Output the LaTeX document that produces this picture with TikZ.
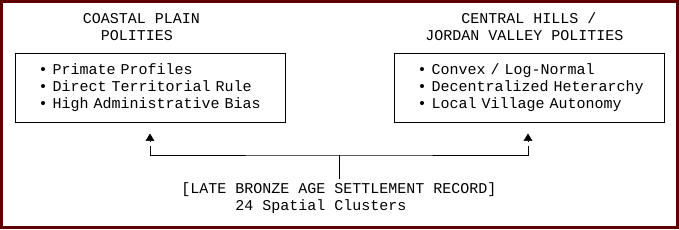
\documentclass[tikz,border=0pt]{standalone}
\usepackage{fontspec}
\setmonofont{Liberation Mono}
\usepackage{tikz}
\usetikzlibrary{arrows.meta, positioning}

\definecolor{framered}{RGB}{94,0,0}
\newcommand{\mono}{\ttfamily\fontsize{11.25pt}{12.75pt}\selectfont}

\begin{document}
\begin{tikzpicture}[
    x=0.75pt, y=-0.75pt,
    title/.style={font=\mono, inner sep=0pt, align=left, anchor=base west},
    box/.style={rectangle, draw, line width=0.75pt,
                minimum width=202.5pt, minimum height=51.75pt,
                text width=184pt, align=left, font=\mono,
                execute at begin node={\leftskip=8.55pt\relax}},
    wire/.style={line width=0.75pt},
    tip/.style={-{Triangle[length=5.6pt, width=6.6pt]}},
  ]
    % Frame
    \useasboundingbox (0,0) rectangle (679,229);
    \draw[framered, line width=1.9pt] (1.25,1.25) rectangle (677.75,227.75);

    % Titles
    \node[title] (ctitle) at (82.5,40)
      {COASTAL PLAIN\\\hphantom{XX}POLITIES};
    \node[title] (htitle) at (425,40)
      {\hphantom{XXXX}CENTRAL HILLS /\\JORDAN VALLEY POLITIES};

    % Polity boxes
    \node[box] (coastal) at (150,87.5)
      {• Primate Profiles\\• Direct Territorial Rule\\• High Administrative Bias};
    \node[box, right=81pt of coastal] (hills)
      {• Convex / Log-Normal\\• Decentralized Heterarchy\\• Local Village Autonomy};

    % Settlement record
    \node[title, anchor=base, inner ysep=2.5pt] (record) at (339,210)
      {[LATE BRONZE AGE SETTLEMENT RECORD]\\\hphantom{XXXXXX}24 Spatial Clusters};

    % Split to both polities
    \coordinate (split) at (339,155);
    \coordinate (cstem) at (150,146);
    \coordinate (hstem) at (528,146);
    \draw[wire] (record.north) -- (split);
    \draw[wire] (cstem) |- (split) -| (hstem);

    % Tips
    \coordinate (cbase) at (150,141);
    \coordinate (ctip) at (150,133.5);
    \coordinate (hbase) at (528,141);
    \coordinate (htip) at (528,133.5);
    \draw[tip] (cbase) -- (ctip);
    \draw[tip] (hbase) -- (htip);
\end{tikzpicture}
\end{document}
